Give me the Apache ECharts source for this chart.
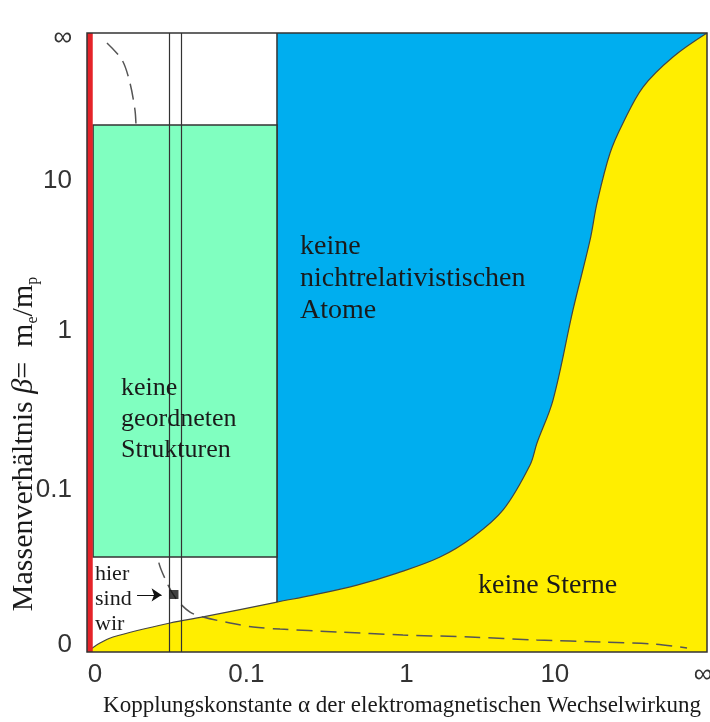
<!DOCTYPE html>
<html>
<head>
<meta charset="utf-8">
<script src="https://cdn.jsdelivr.net/npm/echarts@6/dist/echarts.min.js"></script>
<style>
html,body{margin:0;padding:0;background:#fff;}
#chart{width:710px;height:722px;}
</style>
</head>
<body>
<div id="chart"></div>
<script>
// Compactified axes: 0 -> 0, 0.1 -> ~1, 1 -> ~2, 10 -> ~3, infinity -> ~4
const xTickPos = [0, 1, 2.06, 3.04, 4.02];
const xTickLabels = ['0', '0.1', '1', '10', '∞'];
const yTickPos = [0, 1.02, 2.07, 3.06, 4.0];
const yTickLabels = ['0', '0.1', '1', '10', '∞'];
const xRange = [-0.053, 4.046];
const yRange = [-0.046, 4.033];

// boundary of "keine Sterne" (yellow region lies below)
const starBoundary = [
  [-0.053, -0.046], [0.033, 0.013], [0.119, 0.053], [0.496, 0.145], [0.714, 0.185],
  [1.203, 0.283], [1.441, 0.329], [1.732, 0.395], [1.997, 0.474], [2.281, 0.580],
  [2.499, 0.712], [2.698, 0.890], [2.876, 1.186], [2.922, 1.331], [3.028, 1.614],
  [3.160, 2.208], [3.273, 2.669], [3.319, 2.913], [3.405, 3.242], [3.491, 3.440],
  [3.623, 3.677], [3.821, 3.875], [4.046, 4.033]
];
// "keine nichtrelativistischen Atome" (blue) starts at this x
const atomLeftX = 1.203;
const atomLeftBottomY = 0.283;
// "keine geordneten Strukturen" box [x0, y0, x1, y1]
const structBox = [-0.013, 0.58, 1.203, 3.427];
// red strip at alpha = 0
const redStrip = [-0.053, -0.015];
// dashed curve
const dashedCurve = [
  [0.079, 3.967], [0.179, 3.855], [0.231, 3.704], [0.264, 3.526], [0.271, 3.427],
  [0.417, 0.573], [0.476, 0.409], [0.542, 0.297], [0.628, 0.217], [0.714, 0.185],
  [0.893, 0.145], [1.045, 0.119], [1.223, 0.105], [1.600, 0.086], [2.036, 0.066],
  [2.479, 0.053], [2.922, 0.033], [3.359, 0.020], [3.689, 0.007], [3.914, -0.020]
];
// vertical lines bracketing our universe
const ourLines = [0.489, 0.569];
// "hier sind wir" marker and arrow
const herePoint = [0.522, 0.333];
const arrowFrom = [0.278, 0.330];
const arrowTo = [0.44, 0.330];

const serif = "'Liberation Serif', 'DejaVu Serif', serif";
const sans = "'Liberation Sans', 'DejaVu Sans', sans-serif";

function lookup(pos, labels) {
  return function (v) {
    const i = pos.findIndex(p => Math.abs(p - v) < 1e-6);
    return i >= 0 ? labels[i] : '';
  };
}

const chart = echarts.init(document.getElementById('chart'), null, {renderer: 'canvas'});

function rectRender(box, color, border) {
  return function (params, api) {
    const p0 = api.coord([box[0], box[3]]);
    const p1 = api.coord([box[2], box[1]]);
    return {
      type: 'rect',
      shape: {x: p0[0], y: p0[1], width: p1[0] - p0[0], height: p1[1] - p0[1]},
      style: {fill: color, stroke: border || null, lineWidth: border ? 1.5 : 0}
    };
  };
}

const option = {
  animation: false,
  backgroundColor: '#fff',
  grid: {
    left: 87, right: 3, top: 33, bottom: 70,
    show: true, z: 10, backgroundColor: 'transparent',
    borderColor: '#333', borderWidth: 1.5,
    outerBoundsMode: 'none'
  },
  xAxis: {
    type: 'value', min: xRange[0], max: xRange[1],
    axisLine: {show: false}, axisTick: {show: false}, splitLine: {show: false},
    axisLabel: {
      customValues: xTickPos, formatter: lookup(xTickPos, xTickLabels),
      margin: 10, fontSize: 26, fontFamily: sans, color: '#333'
    }
  },
  yAxis: {
    type: 'value', min: yRange[0], max: yRange[1],
    axisLine: {show: false}, axisTick: {show: false}, splitLine: {show: false},
    axisLabel: {
      customValues: yTickPos, formatter: lookup(yTickPos, yTickLabels),
      margin: 15, fontSize: 26, fontFamily: sans, color: '#333'
    }
  },
  series: [
    {
      name: 'keine Atome', type: 'line', z: 1, symbol: 'none', silent: true,
      data: [[atomLeftX, yRange[1]], [xRange[1], yRange[1]]],
      lineStyle: {width: 0},
      areaStyle: {color: '#00AEEF', opacity: 1, origin: 'start'}
    },
    {
      name: 'keine Sterne', type: 'line', z: 2, symbol: 'none', silent: true,
      smooth: 0.35,
      data: starBoundary,
      lineStyle: {color: '#444', width: 1.2},
      areaStyle: {color: '#FFEE00', opacity: 1, origin: 'start'}
    },
    {
      name: 'Atomgrenze', type: 'line', z: 3, symbol: 'none', silent: true,
      data: [[atomLeftX, atomLeftBottomY], [atomLeftX, yRange[1]]],
      lineStyle: {color: '#333', width: 1.5}
    },
    {
      name: 'gestrichelt', type: 'line', z: 3, symbol: 'none', silent: true,
      smooth: 0.3,
      data: dashedCurve,
      lineStyle: {color: '#555', width: 1.5, type: [16, 8]}
    },
    {
      name: 'Linien', type: 'line', z: 3, data: [], silent: true,
      markLine: {
        silent: true, symbol: 'none', label: {show: false},
        lineStyle: {color: '#333', width: 1.2, type: 'solid'},
        data: ourLines.map(x => ({xAxis: x}))
      }
    },
    {
      name: 'Strukturen', type: 'custom', z: 4, silent: true,
      data: [0],
      renderItem: rectRender(structBox, '#80FFC0', '#333')
    },
    {
      name: 'rot', type: 'custom', z: 4, silent: true,
      data: [0],
      renderItem: rectRender([redStrip[0], yRange[0], redStrip[1], yRange[1]], '#E52329')
    },
    {
      name: 'Pfeil', type: 'line', z: 6, data: [], silent: true,
      markLine: {
        silent: true, symbol: ['none', 'arrow'], symbolSize: 10,
        label: {show: false},
        itemStyle: {color: '#111'},
        lineStyle: {color: '#111', width: 1, type: 'solid'},
        data: [[{coord: arrowFrom}, {coord: arrowTo}]]
      }
    },
    {
      name: 'hier', type: 'scatter', z: 5, silent: true,
      symbol: 'rect', symbolSize: 9,
      itemStyle: {color: '#111'},
      data: [herePoint]
    }
  ],
  graphic: [
    {
      type: 'text', x: 300, y: 231, z: 20,
      style: {text: 'keine\nnichtrelativistischen\nAtome', fontSize: 28, fontFamily: serif,
        fill: '#1a1a1a', lineHeight: 32, align: 'left', verticalAlign: 'top'}
    },
    {
      type: 'text', x: 121, y: 373, z: 20,
      style: {text: 'keine\ngeordneten\nStrukturen', fontSize: 26, fontFamily: serif,
        fill: '#1a1a1a', lineHeight: 31, align: 'left', verticalAlign: 'top'}
    },
    {
      type: 'text', x: 95, y: 562, z: 20,
      style: {text: 'hier\nsind\nwir', fontSize: 22, fontFamily: serif,
        fill: '#1a1a1a', lineHeight: 25, align: 'left', verticalAlign: 'top'}
    },
    {
      type: 'text', x: 478, y: 572, z: 20,
      style: {text: 'keine Sterne', fontSize: 28, fontFamily: serif,
        fill: '#1a1a1a', align: 'left', verticalAlign: 'top'}
    },
    {
      type: 'text', x: 402, y: 706, z: 20,
      style: {text: 'Kopplungskonstante α der elektromagnetischen Wechselwirkung',
        fontSize: 23, fontFamily: serif, fill: '#1a1a1a', align: 'center', verticalAlign: 'middle'}
    },
    {
      type: 'text', x: 24, y: 444, rotation: Math.PI / 2, z: 20,
      style: {
        text: '{a|Massenverhältnis }{b|β}{a|=  m}{s|e}{a|/m}{s|p}',
        align: 'center', verticalAlign: 'middle',
        rich: {
          a: {fontSize: 30, fontFamily: serif, fill: '#1a1a1a', lineHeight: 34},
          b: {fontSize: 30, fontFamily: serif, fontStyle: 'italic', fill: '#1a1a1a', lineHeight: 34},
          s: {fontSize: 16, fontFamily: serif, fill: '#1a1a1a', lineHeight: 12, verticalAlign: 'bottom'}
        }
      }
    }
  ]
};
chart.setOption(option);
</script>
</body>
</html>
